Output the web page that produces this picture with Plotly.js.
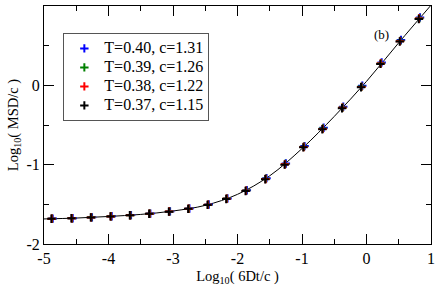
<!DOCTYPE html>
<html>
<head>
<meta charset="utf-8">
<script src="https://cdn.plot.ly/plotly-3.0.1.min.js"></script>
<style>html,body{margin:0;padding:0;background:#fff;}#chart{width:436px;height:288px;}</style>
</head>
<body>
<div id="chart"></div>
<script>
var seriesNames = ["T=0.40, c=1.31", "T=0.39, c=1.26", "T=0.38, c=1.22", "T=0.37, c=1.15"];
var seriesColors = ["#0000ff", "#008000", "#ff0000", "#000000"];

var blueX = [-4.865,-4.555,-4.255,-3.95,-3.65,-3.35,-3.045,-2.745,-2.445,-2.155,-1.855,-1.55,-1.25,-0.96,-0.665,-0.36,-0.065,0.235,0.535,0.83];
var blueY = [-1.680,-1.675,-1.664,-1.651,-1.636,-1.617,-1.589,-1.553,-1.502,-1.425,-1.322,-1.170,-0.985,-0.766,-0.535,-0.270,-0.006,0.289,0.571,0.856];

var greenX = [-4.875,-4.565,-4.265,-3.96,-3.66,-3.36,-3.055,-2.755,-2.455,-2.165,-1.865,-1.56,-1.26,-0.97,-0.675,-0.37,-0.075,0.225,0.525,0.82];
var greenY = [-1.681,-1.676,-1.664,-1.651,-1.637,-1.618,-1.590,-1.555,-1.504,-1.428,-1.327,-1.176,-0.992,-0.774,-0.544,-0.279,-0.016,0.279,0.561,0.846];

var redX = [-4.88,-4.57,-4.27,-3.965,-3.665,-3.365,-3.06,-2.76,-2.46,-2.17,-1.87,-1.565,-1.265,-0.975,-0.68,-0.375,-0.08,0.22,0.52,0.815];
var redY = [-1.681,-1.676,-1.665,-1.652,-1.637,-1.618,-1.591,-1.556,-1.505,-1.430,-1.329,-1.180,-0.996,-0.778,-0.549,-0.283,-0.020,0.275,0.557,0.842];

var blackX = [-4.885,-4.575,-4.275,-3.97,-3.67,-3.37,-3.065,-2.765,-2.465,-2.175,-1.875,-1.57,-1.27,-0.98,-0.685,-0.38,-0.085,0.215,0.515,0.81];
var blackY = [-1.681,-1.676,-1.665,-1.652,-1.638,-1.619,-1.592,-1.557,-1.507,-1.432,-1.332,-1.183,-1.0,-0.782,-0.553,-0.288,-0.025,0.27,0.552,0.837];

var fitX = [-5,-4.5,-4,-3.5,-3,-2.5,-2,-1.5,-1,-0.5,0,0.5,1];
var fitY = [-1.684,-1.673,-1.653,-1.627,-1.584,-1.513,-1.374,-1.14,-0.797,-0.392,0.05,0.537,1.01];

var xTickVals = [-5,-4,-3,-2,-1,0,1];
var yTickVals = [-2,-1,0,1];

var xs = [blueX, greenX, redX, blackX];
var ys = [blueY, greenY, redY, blackY];

var traces = [{
  x: fitX, y: fitY, mode: 'lines', type: 'scatter',
  line: {color: '#000', width: 1, shape: 'spline'},
  showlegend: false, hoverinfo: 'skip'
}];
for (var i = 0; i < 4; i++) {
  traces.push({
    x: xs[i], y: ys[i],
    name: '<span style="font-size:16px">' + seriesNames[i] + '</span>',
    mode: 'markers', type: 'scatter',
    marker: {symbol: 'cross-thin', size: 6, color: seriesColors[i], line: {color: seriesColors[i], width: 2}}
  });
}

var serif = 'Liberation Serif, Times New Roman, serif';
var layout = {
  width: 436, height: 288,
  margin: {l: 44, r: 5, t: 6, b: 44},
  paper_bgcolor: '#fff', plot_bgcolor: '#fff',
  font: {family: serif, size: 15, color: '#000'},
  showlegend: true,
  legend: {
    x: 0.05, y: 0.887, xanchor: 'left', yanchor: 'top',
    bgcolor: '#fff', bordercolor: '#555', borderwidth: 1,
    font: {family: serif, size: 12, color: '#000'},
    tracegroupgap: 0, itemwidth: 30
  },
  xaxis: {
    range: [-5, 1], tickmode: 'array', tickvals: xTickVals, ticktext: xTickVals.map(String),
    ticks: 'inside', ticklen: 10, tickwidth: 1, tickcolor: '#000',
    showline: true, linecolor: '#000', linewidth: 1, mirror: 'ticks',
    showgrid: false, zeroline: false,
    minor: {ticks: 'inside', ticklen: 5, dtick: 0.5, tickcolor: '#000', tickwidth: 1, showgrid: false},
    tickfont: {family: serif, size: 16},
    title: {text: 'Log<sub>10</sub>(\u00a06Dt/c\u00a0)', font: {family: serif, size: 14.5}, standoff: 4}
  },
  yaxis: {
    range: [-2, 1], tickmode: 'array', tickvals: yTickVals, ticktext: yTickVals.map(String),
    ticks: 'inside', ticklen: 10, tickwidth: 1, tickcolor: '#000',
    showline: true, linecolor: '#000', linewidth: 1, mirror: 'ticks',
    showgrid: false, zeroline: false,
    minor: {ticks: 'inside', ticklen: 5, dtick: 0.5, tickcolor: '#000', tickwidth: 1, showgrid: false},
    tickfont: {family: serif, size: 16},
    title: {text: 'Log<sub>10</sub>(\u00a0MSD/c\u00a0)', font: {family: serif, size: 14.5}, standoff: 4}
  },
  annotations: [{
    text: '(b)', x: 0.897, y: 0.92, xref: 'paper', yref: 'paper',
    showarrow: false, font: {family: serif, size: 13, color: '#000'}
  }]
};

Plotly.newPlot('chart', traces, layout, {staticPlot: true, displayModeBar: false});
</script>
</body>
</html>
